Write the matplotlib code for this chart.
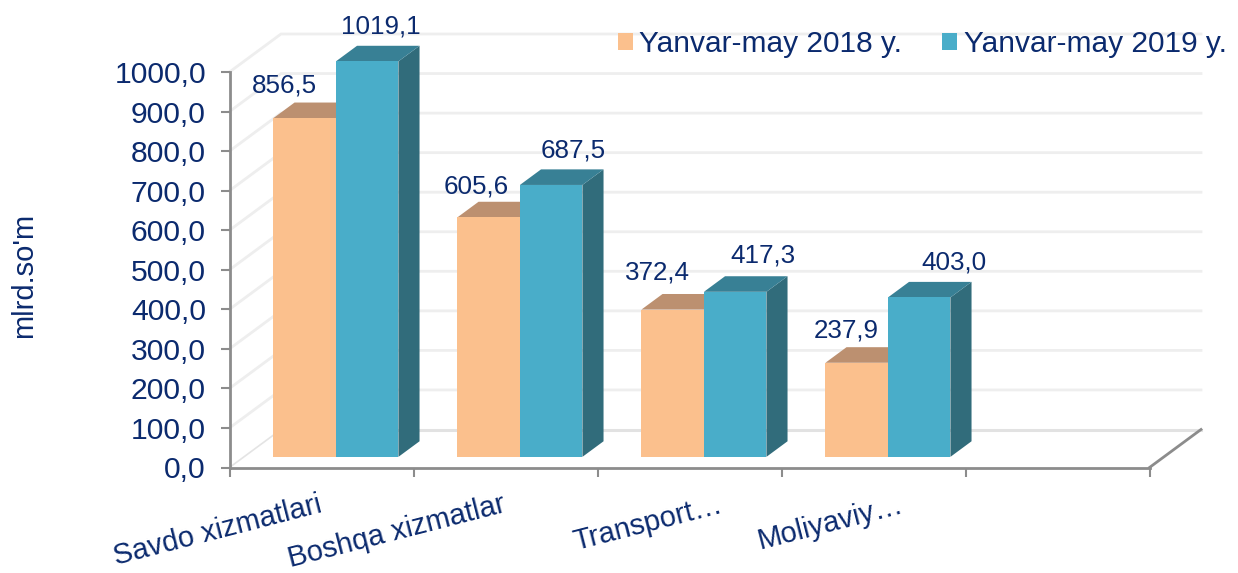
import matplotlib
matplotlib.use("Agg")
import matplotlib.pyplot as plt
from matplotlib.patches import Patch, Polygon

CATEGORIES = ["Savdo xizmatlari", "Boshqa xizmatlar", "Transport…", "Moliyaviy…"]
SERIES_NAMES = ["Yanvar-may 2018 y.", "Yanvar-may 2019 y."]
VALUES_2018 = [856.5, 605.6, 372.4, 237.9]
VALUES_2019 = [1019.1, 687.5, 417.3, 403.0]
Y_TICKS = list(range(0, 1001, 100))
Y_MAX = 1000
N_SLOTS = 5

W, H = 1238, 573
NAVY = "#0B2A6E"
AXIS_GREY = "#8C8C8C"
GRID_GREY = "#EEEEEE"
PEACH = ("#FBC08D", "#BC9070", "#A88060")
TEAL = ("#49ADC9", "#388095", "#316C7B")

# front plane of the fake 3d box, in pixels
AX_LEFT, AX_RIGHT, AX_BOTTOM, AX_TOP = 229.5, 1149.5, 467.5, 72.0
PX_X = N_SLOTS / (AX_RIGHT - AX_LEFT)
PX_Y = Y_MAX / (AX_BOTTOM - AX_TOP)
DEPTH_X, DEPTH_Y = 51.5 * PX_X, 38.0 * PX_Y
BAR_WIDTH = 62.5 * PX_X
BAR_START = 29.5 * PX_X
DEPTH_NEAR, DEPTH_FAR = 0.28, 0.69

# label offsets from the bar's front top centre, pixels
OFFSETS_2018 = [(-20, 33), (-12, 31), (-15, 37), (-10, 32)]
OFFSETS_2019 = [(14, 35), (22, 34), (28, 36), (35, 35)]
CAT_SHIFT = [-4, -4, 29, 26]


def draw_bar(ax, x0, value, colors):
    top = min(value, Y_MAX)
    x1 = x0 + BAR_WIDTH
    nx, ny = DEPTH_NEAR * DEPTH_X, DEPTH_NEAR * DEPTH_Y
    fx, fy = DEPTH_FAR * DEPTH_X, DEPTH_FAR * DEPTH_Y
    face, lid, side = colors
    front = [(x0 + nx, ny), (x1 + nx, ny), (x1 + nx, top + ny), (x0 + nx, top + ny)]
    roof = [(x0 + nx, top + ny), (x1 + nx, top + ny), (x1 + fx, top + fy), (x0 + fx, top + fy)]
    flank = [(x1 + nx, ny), (x1 + fx, fy), (x1 + fx, top + fy), (x1 + nx, top + ny)]
    ax.add_patch(Polygon(flank, closed=True, fc=side, ec="none", clip_on=False, zorder=3))
    ax.add_patch(Polygon(roof, closed=True, fc=lid, ec="none", clip_on=False, zorder=3))
    ax.add_patch(Polygon(front, closed=True, fc=face, ec="none", clip_on=False, zorder=3))
    return x0 + nx + BAR_WIDTH / 2, top + ny


plt.rcParams["font.family"] = ["Liberation Sans", "DejaVu Sans"]
fig = plt.figure(figsize=(W / 100, H / 100), dpi=100)
ax = fig.add_axes([AX_LEFT / W, 1 - AX_BOTTOM / H, (AX_RIGHT - AX_LEFT) / W, (AX_BOTTOM - AX_TOP) / H])
ax.set_xlim(0, N_SLOTS)
ax.set_ylim(0, Y_MAX)
ax.patch.set_alpha(0)

# walls
for t in Y_TICKS[1:]:
    ax.plot([0, DEPTH_X, N_SLOTS + DEPTH_X], [t, t + DEPTH_Y, t + DEPTH_Y], color=GRID_GREY,
            lw=2, clip_on=False, zorder=1, solid_joinstyle="miter")
ax.plot([0, DEPTH_X], [0, DEPTH_Y], color="#E4E4E4", lw=1.2, clip_on=False, zorder=1)
ax.plot([DEPTH_X, N_SLOTS + DEPTH_X], [DEPTH_Y, DEPTH_Y], color="#E2E2E2", lw=2.2, clip_on=False, zorder=1)
ax.plot([N_SLOTS, N_SLOTS + DEPTH_X], [0, DEPTH_Y], color=AXIS_GREY, lw=2, clip_on=False, zorder=2)

for k in range(len(CATEGORIES)):
    for j, (vals, cols, offs) in enumerate([(VALUES_2018, PEACH, OFFSETS_2018), (VALUES_2019, TEAL, OFFSETS_2019)]):
        cx, cy = draw_bar(ax, k + BAR_START + j * BAR_WIDTH, vals[k], cols)
        ax.annotate(f"{vals[k]:.1f}".replace(".", ","), (cx, cy), xytext=offs[k], textcoords="offset pixels",
                    ha="center", va="center", fontsize=18.7, color=NAVY, zorder=5, annotation_clip=False)
    ax.annotate(CATEGORIES[k], (k + 0.5, 0), xytext=(CAT_SHIFT[k], -23), textcoords="offset pixels",
                ha="right", va="top", rotation=14.4, rotation_mode="anchor", fontsize=21, color=NAVY,
                annotation_clip=False)

for s in ("top", "right"):
    ax.spines[s].set_visible(False)
for s in ("left", "bottom"):
    ax.spines[s].set_color(AXIS_GREY)
    ax.spines[s].set_linewidth(2)
    ax.spines[s].set_zorder(2)
ax.set_yticks(Y_TICKS)
ax.set_yticklabels([f"{t:.1f}".replace(".", ",") for t in Y_TICKS], fontsize=21.7, color=NAVY)
ax.set_xticks(range(N_SLOTS + 1))
ax.set_xticklabels([])
ax.tick_params(axis="both", color=AXIS_GREY, width=1.5, length=6.5)
ax.tick_params(axis="y", pad=10.5)

fig.text(24 / W, 1 - 275 / H, "mlrd.so'm", rotation=90, ha="center", va="center", fontsize=21, color=NAVY)

handles = [Patch(fc=PEACH[0], label=SERIES_NAMES[0]), Patch(fc=TEAL[0], label=SERIES_NAMES[1])]
fig.legend(handles=handles, loc="center right", bbox_to_anchor=(1227 / W, 1 - 44 / H), bbox_transform=fig.transFigure,
           ncol=2, frameon=False, fontsize=21.5, labelcolor=NAVY, handlelength=0.5, handleheight=0.5,
           handletextpad=0.23, columnspacing=1.33, borderpad=0, borderaxespad=0)

fig.savefig("out.png", dpi=100)
